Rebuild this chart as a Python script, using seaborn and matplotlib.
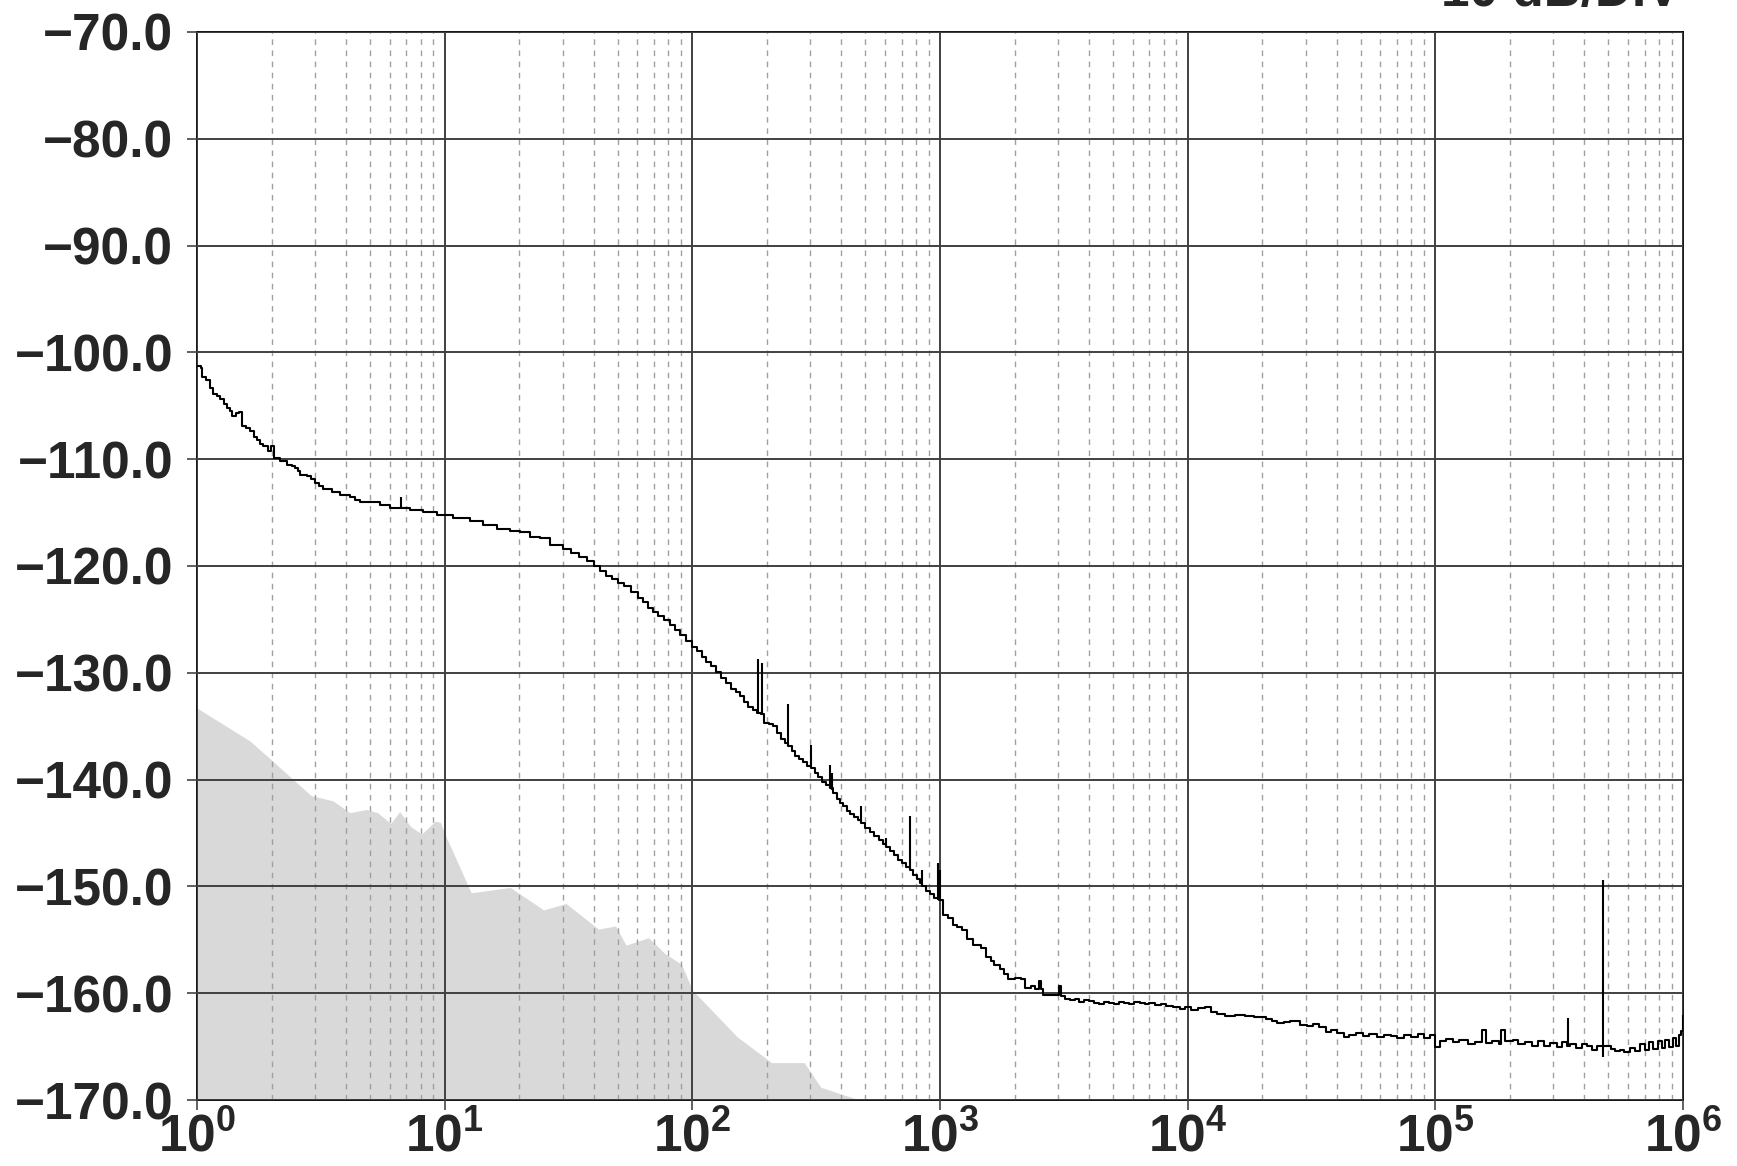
import numpy as np
import pandas as pd
import matplotlib
matplotlib.use("Agg")
import matplotlib.pyplot as plt
import seaborn as sns
from matplotlib.ticker import FixedLocator, FixedFormatter, LogLocator, NullFormatter

# measured trace (Hz, dB)
freq = [1.00, 1.04, 1.05, 1.09, 1.13, 1.16, 1.20, 1.24, 1.28, 1.32, 1.36, 1.38, 1.44, 1.48, 1.52,
        1.58, 1.64, 1.70, 1.74, 1.80, 1.85, 1.94, 1.99, 2.05, 2.16, 2.30, 2.42, 2.49, 2.55, 2.61,
        2.77, 2.88, 2.99, 3.12, 3.24, 3.50, 3.78, 4.15, 4.35, 4.55, 4.99, 5.48, 6.01, 6.60, 6.75,
        7.24, 8.20, 9.29, 10.0, 10.8, 12.6, 14.3, 16.2, 18.4, 20.1, 22.1, 24.3, 26.6, 30.1, 32.5,
        35.0, 37.5, 40.0, 42.4, 45.0, 47.5, 50.0, 53.0, 56.5, 60.3, 63.0, 66.5, 69.6, 73.0, 77.0,
        81.2, 85.0, 89.0, 94.0, 99.6, 104, 109, 114, 119, 125, 131, 137, 143, 150, 156,
        162, 168, 175, 182, 190, 195, 204, 212, 220, 228, 236, 243, 252, 261, 270,
        280, 290, 301, 312, 323, 335, 347, 359, 371, 383, 395, 407, 420, 435, 450,
        466, 482, 500, 520, 542, 565, 587, 608, 630, 655, 680, 705, 730, 755, 780,
        805, 828, 850, 880, 910, 950, 991, 1030, 1080, 1125, 1170, 1222, 1280, 1360, 1470,
        1540, 1600, 1660, 1740, 1810, 1880, 2000, 2130, 2200, 2330, 2420, 2500, 2560, 2610, 2800,
        2950, 3020, 3090, 3200, 3340, 3500, 3650, 3800, 4000, 4200, 4400, 4600, 4800, 5050, 5300,
        5550, 5800, 6100, 6400, 6700, 7000, 7400, 7800, 8200, 8740, 9300, 9800, 10300, 11000, 11700,
        12400, 13100, 14200, 15500, 17000, 18500, 20800, 22000, 22900, 24500, 26000, 28400, 30200, 32000, 34000,
        36300, 38000, 40000, 42600, 45000, 48000, 51000, 54000, 58000, 62000, 66000, 70000, 75000, 80000, 85000,
        90000, 95000, 100000, 104000, 110000, 118000, 125000, 135000, 145000, 155000, 160000, 170000, 180000, 185000, 192000,
        205000, 215000, 230000, 245000, 260000, 275000, 290000, 310000, 325000, 340000, 350000, 370000, 390000, 408000, 430000,
        450000, 490000, 510000, 530000, 555000, 580000, 610000, 640000, 670000, 700000, 730000, 760000, 790000, 820000, 850000,
        880000, 910000, 940000, 960000, 980000, 1000000]
level = [-101.3, -101.5, -102.3, -102.6, -103.3, -103.9, -104.1, -104.4, -104.8, -105.2, -105.5, -106.0, -105.7, -105.6, -106.9,
         -107.1, -107.4, -107.9, -108.2, -108.6, -108.8, -109.2, -108.8, -109.9, -110.2, -110.5, -110.6, -110.8, -111.1, -111.5,
         -111.6, -111.9, -112.2, -112.5, -112.8, -113.1, -113.4, -113.5, -113.8, -114.0, -114.0, -114.3, -114.6, -114.6, -114.6,
         -114.8, -114.9, -115.2, -115.2, -115.5, -115.8, -116.2, -116.5, -116.7, -116.8, -117.3, -117.4, -118.0, -118.4, -118.8,
         -119.2, -119.5, -120.0, -120.5, -120.9, -121.2, -121.6, -121.9, -122.4, -123.0, -123.4, -123.9, -124.3, -124.7, -125.1,
         -125.5, -126.0, -126.5, -127.0, -127.6, -128.0, -128.5, -129.0, -129.4, -129.9, -130.5, -131.0, -131.5, -131.8, -132.2,
         -132.7, -133.2, -133.5, -133.8, -133.9, -134.7, -134.8, -135.0, -135.6, -136.2, -136.6, -136.9, -137.3, -137.8, -138.1,
         -138.4, -138.7, -138.9, -139.4, -139.8, -140.2, -140.5, -140.8, -141.3, -141.8, -142.2, -142.5, -142.9, -143.2, -143.5,
         -143.8, -144.1, -144.5, -144.9, -145.3, -145.7, -146.0, -146.3, -146.7, -147.1, -147.5, -147.8, -148.2, -148.5, -148.9,
         -149.3, -149.7, -150.0, -150.4, -150.7, -151.1, -151.3, -152.7, -153.0, -153.6, -153.8, -154.1, -154.9, -155.5, -155.8,
         -156.6, -157.0, -157.4, -157.7, -158.2, -158.7, -158.6, -158.7, -159.5, -159.3, -159.6, -158.9, -159.6, -160.2, -160.2,
         -160.2, -159.3, -160.3, -160.5, -160.6, -160.5, -160.8, -160.6, -160.7, -160.9, -161.0, -160.8, -160.9, -161.0, -160.8,
         -160.9, -161.0, -160.8, -160.9, -161.0, -160.9, -161.1, -161.0, -161.2, -161.3, -161.5, -161.3, -161.6, -161.4, -161.3,
         -161.8, -161.95, -162.1, -162.0, -162.1, -162.2, -162.45, -162.6, -162.8, -162.7, -162.6, -163.0, -163.1, -162.9, -163.2,
         -163.6, -163.4, -163.7, -164.1, -163.9, -163.7, -164.0, -163.8, -164.1, -163.9, -164.0, -164.2, -163.9, -164.1, -163.8,
         -164.2, -163.9, -165.0, -164.5, -164.3, -164.6, -164.4, -164.8, -164.6, -163.4, -164.7, -164.5, -164.8, -163.4, -164.5,
         -164.4, -164.8, -164.6, -164.9, -164.5, -164.9, -164.7, -165.0, -164.6, -164.9, -164.8, -165.1, -164.8, -164.9, -165.3,
         -164.9, -164.9, -165.2, -165.4, -165.3, -165.5, -165.1, -165.4, -164.8, -165.3, -164.6, -165.2, -164.5, -165.1, -164.4,
         -165.0, -164.2, -164.9, -163.9, -163.5, -163.0]

# narrow spurs on the trace
spur_freq = [6.66, 184, 192, 244, 301, 359, 365, 482, 608, 755, 850, 985, 1000, 344000, 475000, 1000000]
spur_top = [-113.5, -128.7, -129.1, -132.9, -136.8, -138.6, -139.4, -142.5, -145.5, -143.4, -148.5, -147.8, -148.5,
            -162.3, -149.4, -162.0]
spur_base = [-114.6, -133.8, -133.9, -136.9, -138.9, -140.8, -141.0, -144.1, -146.3, -148.5, -150.0, -151.3, -151.3,
             -164.9, -166.0, -163.0]

# reference floor (grey area)
floor_freq = [1, 1.64, 2.12, 2.89, 3.55, 4.14, 4.83, 5.36, 6.06, 6.58, 7.29, 8.08, 9.15, 9.6, 10.2,
              12.8, 18.4, 25.1, 30.9, 41.8, 49, 54, 66.6, 77.6, 90.5, 100, 152, 209, 283, 330, 472]
floor_level = [-133.3, -136.4, -138.7, -141.5, -142.0, -143.1, -142.8, -143.1, -144.1, -143.0, -144.4, -145.1,
               -143.9, -144.0, -145.5, -150.6, -150.1, -152.2, -151.6, -154.0, -153.7, -155.5, -154.8, -156.3,
               -157.3, -159.7, -164.1, -166.5, -166.5, -168.8, -170.0]

y_ticks = [-70, -80, -90, -100, -110, -120, -130, -140, -150, -160, -170]
y_labels = ['\u221270.0', '\u221280.0', '\u221290.0', '\u2212100.0', '\u2212110.0', '\u2212120.0',
            '\u2212130.0', '\u2212140.0', '\u2212150.0', '\u2212160.0', '\u2212170.0']
x_ticks = [1, 10, 100, 1000, 10000, 100000, 1000000]
x_labels = ['$10^{0}$', '$10^{1}$', '$10^{2}$', '$10^{3}$', '$10^{4}$', '$10^{5}$', '$10^{6}$']

df = pd.DataFrame({'freq': freq, 'level': level})

sns.set_theme(style='white')
plt.rcParams['font.family'] = ['Liberation Sans', 'DejaVu Sans']
plt.rcParams['font.weight'] = 'bold'
plt.rcParams['mathtext.fontset'] = 'custom'
plt.rcParams['mathtext.rm'] = 'Liberation Sans:bold'
plt.rcParams['mathtext.default'] = 'rm'

fig = plt.figure(figsize=(17.37, 11.66), dpi=100)
ax = fig.add_axes([0.1134, 0.0566, 0.9689 - 0.1134, 0.9726 - 0.0566])

ax.fill_between(floor_freq, floor_level, -170, color='#d9d9d9', linewidth=0, zorder=0.3)
sns.lineplot(data=df, x='freq', y='level', ax=ax, color='black', linewidth=1.5,
             drawstyle='steps-post', estimator=None, zorder=3)
ax.vlines(spur_freq, spur_base, spur_top, color='black', linewidth=1.5, zorder=3)

ax.set_xscale('log')
ax.set_xlim(1, 1e6)
ax.set_ylim(-170, -70)

ax.xaxis.set_major_locator(FixedLocator(x_ticks))
ax.xaxis.set_major_formatter(FixedFormatter(x_labels))
ax.xaxis.set_minor_locator(LogLocator(base=10, subs=np.arange(2, 10), numticks=100))
ax.xaxis.set_minor_formatter(NullFormatter())
ax.yaxis.set_major_locator(FixedLocator(y_ticks))
ax.yaxis.set_major_formatter(FixedFormatter(y_labels))

ax.grid(False)
ax.grid(which='major', axis='both', color='#404040', linewidth=1.4, linestyle='-', zorder=1)
ax.grid(which='minor', axis='x', color='#a0a0a0', linewidth=1.0, linestyle=(0, (4, 4)), zorder=1)
ax.set_axisbelow(False)

ax.tick_params(which='major', direction='out', length=7, width=1.2, color='#444444',
               labelsize=37, left=True, bottom=True)
ax.tick_params(axis='y', pad=10)
ax.tick_params(axis='x', pad=2)
ax.tick_params(which='minor', length=0)

for s in ax.spines.values():
    s.set_color('black')
    s.set_linewidth(1.3)

ax.set_xlabel('')
ax.set_ylabel('')

fig.text(1680 / 1737, 1 - 6 / 1166, '10 dB/DIV', ha='right', va='baseline',
         fontsize=37, fontweight='bold')

fig.savefig('out.png', dpi=100)
